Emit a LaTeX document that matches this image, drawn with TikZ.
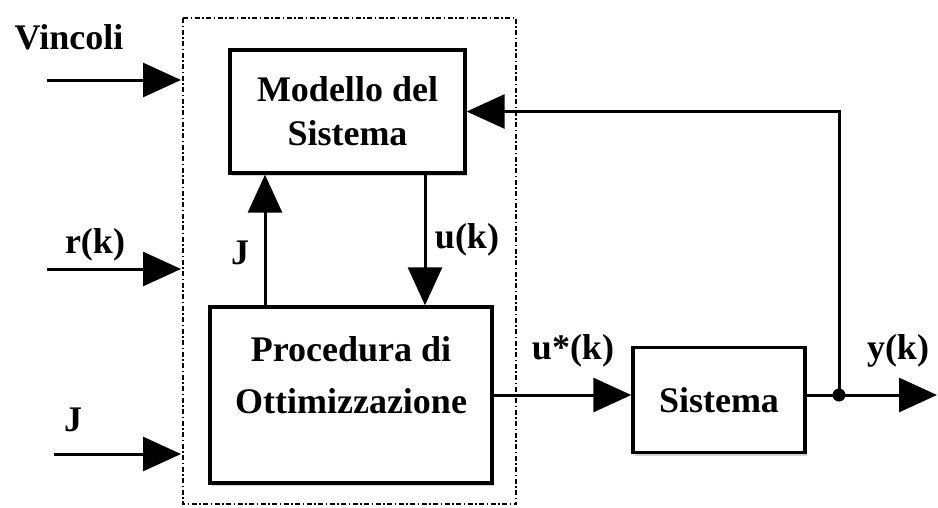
\documentclass[tikz,border=0pt]{standalone}
\usepackage{fontspec}
\setmainfont{Liberation Serif}
\usetikzlibrary{arrows.meta,shadows}
\begin{document}
\begin{tikzpicture}[x=1pt,y=-1pt,
 blk/.style={draw, line width=3.4pt, fill=white, drop shadow={shadow xshift=2pt,shadow yshift=-3pt,opacity=0.35}, align=center, font=\fontsize{36}{44}\selectfont\bfseries, inner sep=0pt},
 lbl/.style={font=\fontsize{36}{40}\selectfont\bfseries, inner sep=0pt},
 conn/.style={line width=3pt, -{Triangle[length=38pt,width=34pt]}},
 wire/.style={line width=3pt}]
\useasboundingbox (0,0) rectangle (938,507);
\draw[line width=2.8pt, dash pattern=on 5pt off 2.5pt on 1.5pt off 2.5pt] (183,18) rectangle (516,504);
\node[blk, minimum width=235, minimum height=123] (mod) at (347.5,111.5) {Modello del\\Sistema};
\node[blk, minimum width=282, minimum height=176, font=\fontsize{36}{52}\selectfont\bfseries] (proc) at (351,395) {Procedura di\\Ottimizzazione\\[-12pt]};
\node[blk, minimum width=172, minimum height=105] (sis) at (719,400) {Sistema};
\coordinate (j) at (839,395);
\coordinate (yend) at (937,395);
\coordinate (jx) at (265,0);
\coordinate (ux) at (425,0);
\coordinate (v0) at (47,80);
\coordinate (v1) at (181,80);
\coordinate (r0) at (47,269);
\coordinate (r1) at (181,269);
\coordinate (J0) at (54,454);
\coordinate (J1) at (181,454);
\draw[conn] (proc.east |- j) -- (sis.west |- j);
\draw[wire] (sis.east |- j) -- (j);
\draw[conn] (j) -- (yend);
\draw[conn] (j) |- (mod.east);
\fill (j) circle (6.5);
\draw[conn] (proc.north -| jx) -- (mod.south -| jx);
\draw[conn] (mod.south -| ux) -- (proc.north -| ux);
\draw[conn] (v0) -- (v1);
\draw[conn] (r0) -- (r1);
\draw[conn] (J0) -- (J1);
\node[lbl] (lv) at (69,37) {Vincoli};
\node[lbl] (lr) at (95,245) {r(k)};
\node[lbl] (lj) at (73,420) {J};
\node[lbl] (lji) at (240,253) {J};
\node[lbl] (lu) at (467,240) {u(k)};
\node[lbl] (lus) at (573,351) {u*(k)};
\node[lbl] (ly) at (898,351) {y(k)};
\end{tikzpicture}
\end{document}
